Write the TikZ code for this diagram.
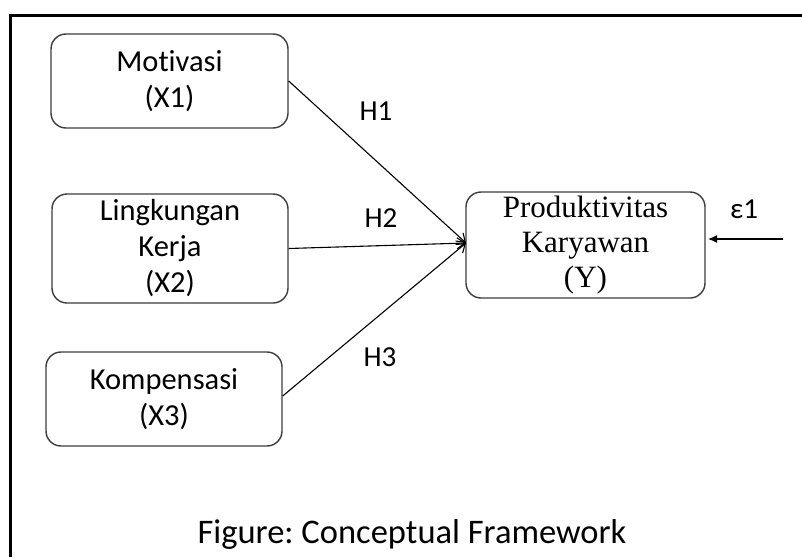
\documentclass[tikz,border=0pt]{standalone}
\usepackage{fontspec}
\setmainfont[Ligatures=CommonOff]{Carlito}
\newfontfamily\timesfont{Liberation Serif}
\usetikzlibrary{arrows.meta}
\frenchspacing
\definecolor{boxline}{HTML}{3C3C3C}
\tikzset{
  x=1pt,y=-1pt,
  varbox/.style={draw=boxline,line width=1.4pt,rounded corners=15pt,inner sep=0pt,align=center,
    font=\fontsize{30.5}{36}\selectfont},
  hlabel/.style={inner sep=0pt,anchor=base,font=\fontsize{29}{34}\selectfont},
  link/.style={line width=1.1pt,-{Straight Barb[length=8pt,width=11pt,line width=1.1pt]}},
  errlink/.style={line width=1.3pt,-{Latex[length=9pt,width=8pt]}},
}
\begin{document}
\begin{tikzpicture}
\useasboundingbox (0,0) rectangle (802,557);
\fill[white] (0,0) rectangle (802,557);
% frame
\draw[line width=3pt] (10.5,557) -- (10.5,15) -- (802,15);

\node[varbox,minimum width=237pt,minimum height=94pt] (m) at (169.5,81) {Motivasi\\(X1)};
\node[varbox,minimum width=236pt,minimum height=109pt] (l) at (170,248.5) {Lingkungan\\Kerja\\(X2)};
\node[varbox,minimum width=236pt,minimum height=94pt] (k) at (164,399) {Kompensasi\\(X3)};
\node[varbox,minimum width=239pt,minimum height=106pt,font=\timesfont\fontsize{31}{35}\selectfont] (y) at (585.5,245) {Produktivitas\\Karyawan\\(Y)};

\coordinate (tgt) at (466,243);
\draw[link] (m.east) -- (tgt);
\draw[link] (l.east) -- (tgt);
\draw[link] ([yshift=3pt]k.east) -- (tgt);

\node[hlabel] (h1) at (376,120) {H1};
\node[hlabel] (h2) at (381,227) {H2};
\node[hlabel] (h3) at (380,366) {H3};

\node[hlabel] (eps) at (744,218) {ε1};
\coordinate (es) at (783,239);
\coordinate (ee) at (708,239);
\draw[errlink] (es) -- (ee);

\node[inner sep=0pt,anchor=base,font=\fontsize{34.5}{40}\selectfont] (cap) at (412,543) {Figure: Conceptual Framework};
\end{tikzpicture}
\end{document}
